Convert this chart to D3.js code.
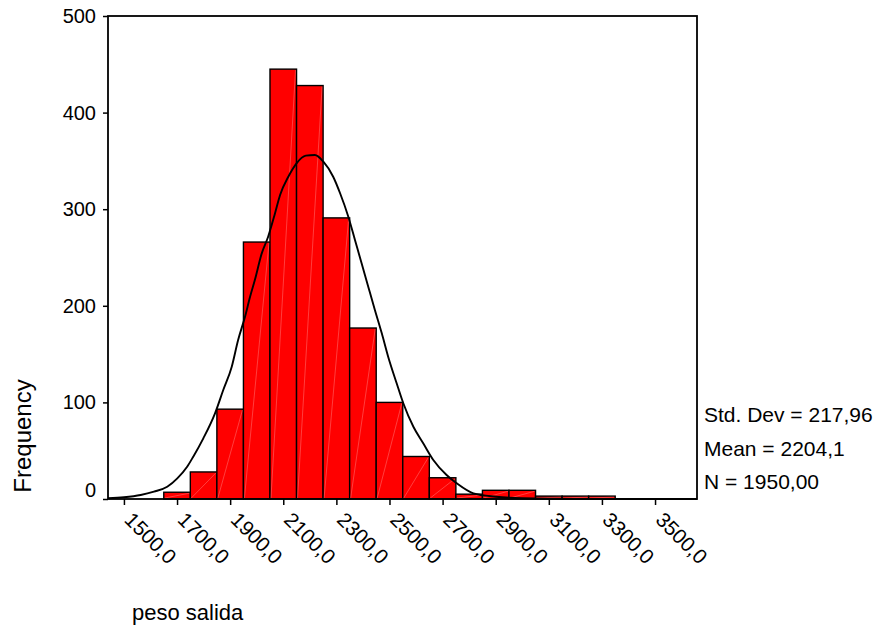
<!DOCTYPE html>
<html>
<head>
  <meta charset="utf-8">
  <title>Histograma peso salida</title>
  <script src="https://d3js.org/d3.v7.min.js"></script>
  <style>
    body { margin: 0; background: #fff; }
    text { font-family: "Liberation Sans", Arial, sans-serif; fill: #000; }
  </style>
</head>
<body>
  <svg id="grafico"></svg>

  <script>
    // bin midpoints (width 100) and frequencies
    const centros = [1700, 1800, 1900, 2000, 2100, 2200, 2300, 2400, 2500,
                     2600, 2700, 2800, 2900, 3000, 3100, 3200, 3300];
    const frecuencias = [7, 28, 93, 266, 445, 428, 291, 177, 100,
                         44, 22, 5, 9, 9, 3, 3, 3];
    const anchoClase = 100;

    // fitted normal curve
    const curvaX = [1440, 1500, 1563, 1613, 1663, 1701, 1738, 1761, 1799, 1843, 1874, 1906,
                    1930, 1956, 1975, 1993, 2019, 2043, 2069, 2088, 2119, 2150, 2185, 2219,
                    2251, 2288, 2314, 2345, 2370, 2395, 2420, 2445, 2471, 2495, 2527, 2552,
                    2590, 2627, 2665, 2715, 2753, 2816, 2900, 3000, 3200, 3658];
    const curvaY = [0.8, 1.8, 4.1, 7.6, 12.7, 21.4, 33.4, 43.8, 62.8, 88.7, 112.8, 137,
                    164.6, 188.7, 209.4, 226.7, 254.3, 271.5, 295.8, 314.7, 333.6, 347.5, 355.4, 356.1,
                    349.2, 333.6, 316.5, 292.2, 268.1, 244, 219.8, 195.7, 171.5, 147.3, 119.8, 99.1,
                    74.8, 57.7, 40.4, 24.8, 16.3, 5.9, 2.4, 0.8, 0.1, 0];

    const ticksX = [1500, 1700, 1900, 2100, 2300, 2500, 2700, 2900, 3100, 3300, 3500];
    const ticksY = [0, 100, 200, 300, 400, 500];
    const estadisticos = ["Std. Dev = 217,96", "Mean = 2204,1", "N = 1950,00"];

    const ancho = 877, alto = 633;
    const izq = 108, der = 697, arriba = 16, abajo = 499;

    const svg = d3.select("#grafico")
      .attr("width", ancho)
      .attr("height", alto);

    const x = d3.scaleLinear().domain([1440, 3658]).range([izq, der]);
    const y = d3.scaleLinear().domain([0, 500]).range([abajo, arriba]);

    // barras
    const barras = svg.append("g");
    const datos = centros.map((c, i) => ({ c: c, n: frecuencias[i] }));

    barras.selectAll("rect")
      .data(datos)
      .enter()
      .append("rect")
      .attr("x", d => x(d.c - anchoClase / 2))
      .attr("y", d => y(d.n))
      .attr("width", d => x(d.c + anchoClase / 2) - x(d.c - anchoClase / 2))
      .attr("height", d => y(0) - y(d.n))
      .style("fill", "#ff0000")
      .style("stroke", "#000")
      .style("stroke-width", 1.4);

    // faint diagonal seams like the original rendering
    barras.selectAll(".costura")
      .data(datos)
      .enter()
      .append("line")
      .attr("class", "costura")
      .attr("x1", d => x(d.c - anchoClase / 2) + 1)
      .attr("y1", y(0) - 1)
      .attr("x2", d => x(d.c + anchoClase / 2) - 1)
      .attr("y2", d => y(d.n) + 1)
      .style("stroke", "rgba(255,255,255,0.35)")
      .style("stroke-width", 0.7);

    // curva normal
    const linea = d3.line()
      .x(d => x(d[0]))
      .y(d => y(d[1]))
      .curve(d3.curveMonotoneX);

    svg.append("path")
      .datum(curvaX.map((v, i) => [v, curvaY[i]]))
      .attr("d", linea)
      .style("fill", "none")
      .style("stroke", "#000")
      .style("stroke-width", 1.9);

    // marco
    svg.append("rect")
      .attr("x", izq)
      .attr("y", arriba)
      .attr("width", der - izq)
      .attr("height", abajo - arriba)
      .style("fill", "none")
      .style("stroke", "#000")
      .style("stroke-width", 1.8);

    // eje y
    const ejeY = svg.append("g")
      .attr("transform", `translate(${izq},0)`)
      .call(d3.axisLeft(y).tickValues(ticksY).tickSize(5).tickPadding(7));
    ejeY.select(".domain").remove();
    ejeY.selectAll("line").style("stroke-width", 1.5);
    ejeY.selectAll("text")
      .style("font-size", "20px")
      .attr("font-family", null);
    ejeY.selectAll("text").filter(d => d === 0).attr("y", -9);

    // eje x
    const ejeX = svg.append("g")
      .attr("transform", `translate(0,${abajo})`)
      .call(d3.axisBottom(x).tickValues(ticksX).tickSize(6).tickFormat(d => d + ",0"));
    ejeX.select(".domain").remove();
    ejeX.selectAll("line").style("stroke-width", 1.5);
    ejeX.selectAll("text")
      .style("font-size", "20.5px")
      .attr("font-family", null)
      .attr("text-anchor", "start")
      .attr("x", 0)
      .attr("y", 0)
      .attr("dy", "0.35em")
      .attr("transform", "translate(4,17) rotate(45)");

    // rótulos
    svg.append("text")
      .attr("transform", "translate(31,436) rotate(-90)")
      .attr("text-anchor", "middle")
      .style("font-size", "24px")
      .text("Frequency");

    svg.append("text")
      .attr("x", 132)
      .attr("y", 620)
      .style("font-size", "22px")
      .text("peso salida");

    svg.selectAll(".estad")
      .data(estadisticos)
      .enter()
      .append("text")
      .attr("class", "estad")
      .attr("x", 704)
      .attr("y", (d, i) => 422 + i * 33.5)
      .style("font-size", "21px")
      .text(d => d);
  </script>
</body>
</html>
